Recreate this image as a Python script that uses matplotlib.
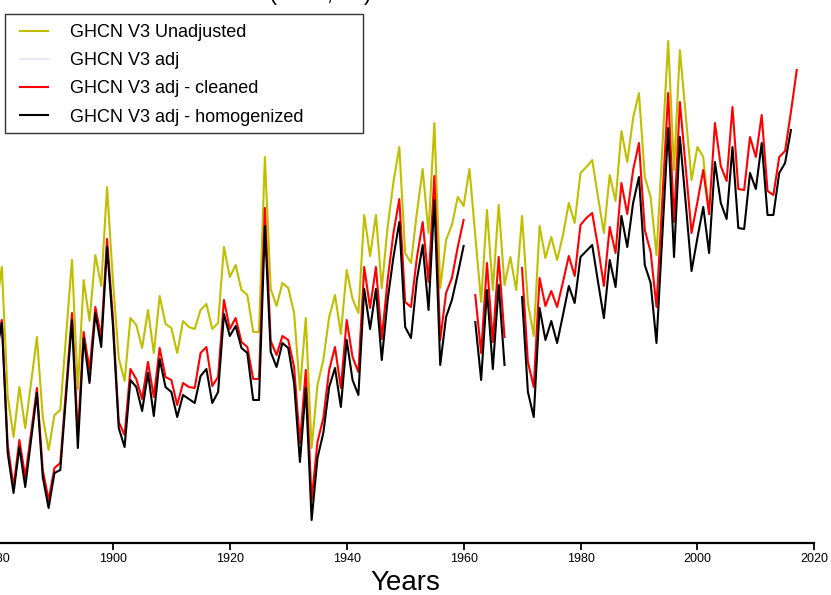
import numpy as np
import matplotlib
matplotlib.use("Agg")
import matplotlib.pyplot as plt
from matplotlib.patches import Rectangle

# annual anomalies (deg C), 1880 - 2017
years = list(range(1880, 2018))

# GHCN V3 unadjusted, only visible up to 2002 (hidden under red afterwards)
unadj = [0.21, 0.63, -0.66, -1.07, -0.57, -0.98, -0.53, -0.07, -0.87, -1.20,
         -0.85, -0.80, -0.05, 0.70, -0.59, 0.50, 0.09, 0.75, 0.44, 1.43,
         0.50, -0.28, -0.51, 0.12, 0.05, -0.18, 0.20, -0.23, 0.34, 0.06,
         0.02, -0.23, 0.09, 0.03, 0.01, 0.20, 0.26, 0.01, 0.07, 0.83,
         0.53, 0.65, 0.40, 0.35, -0.02, -0.02, 1.73, 0.41, 0.24, 0.47,
         0.42, 0.17, -0.60, 0.12, -1.18, -0.55, -0.30, 0.13, 0.35, -0.04,
         0.60, 0.31, 0.17, 1.15, 0.74, 1.15, 0.42, 1.03, 1.48, 1.83,
         0.77, 0.67, 1.17, 1.61, 0.97, 2.07, 0.42, 0.90, 1.05, 1.33,
         1.24, 1.61, 0.94, 0.28, 1.20, 0.40, 1.25, 0.45, 0.73, 0.40,
         1.14, 0.27, -0.06, 1.04, 0.72, 0.93, 0.70, 0.95, 1.27, 1.07,
         1.57, 1.63, 1.70, 1.33, 0.97, 1.55, 1.29, 1.99, 1.68, 2.12,
         2.37, 1.53, 1.33, 0.75, 1.82, 2.89, 1.60, 2.80, 2.15, 1.50,
         1.83, 1.73, 1.16]

# GHCN V3 adj - cleaned (None = missing year)
cleaned = [-0.15, 0.10, -1.15, -1.57, -1.10, -1.47, -1.03, -0.58, -1.40, -1.70,
           -1.38, -1.33, -0.58, 0.17, -1.05, -0.02, -0.40, 0.23, -0.07, 0.91,
           0.12, -0.92, -1.05, -0.39, -0.49, -0.69, -0.32, -0.67, -0.18, -0.47,
           -0.50, -0.75, -0.53, -0.57, -0.58, -0.23, -0.17, -0.56, -0.47, 0.30,
           0.01, 0.12, -0.12, -0.17, -0.49, -0.49, 1.22, -0.11, -0.25, -0.06,
           -0.10, -0.37, -1.13, -0.40, -1.70, -1.12, -0.88, -0.40, -0.17, -0.58,
           0.10, -0.27, -0.42, 0.63, 0.22, 0.63, -0.09, 0.50, 0.97, 1.31,
           0.28, 0.23, 0.72, 1.08, 0.48, 1.54, -0.10, 0.37, 0.52, 0.83,
           1.10, None, 0.35, -0.23, 0.67, -0.12, 0.73, -0.07, None, None,
           0.62, -0.32, -0.57, 0.52, 0.24, 0.39, 0.23, 0.48, 0.74, 0.54,
           1.05, 1.12, 1.17, 0.83, 0.44, 1.03, 0.77, 1.47, 1.16, 1.60,
           1.87, 1.00, 0.78, 0.23, 1.30, 2.37, 1.08, 2.28, 1.63, 0.97,
           1.28, 1.60, 1.16, 2.07, 1.64, 1.49, 2.23, 1.41, 1.40, 1.93,
           1.73, 2.15, 1.39, 1.35, 1.73, 1.79, 2.18, 2.60]

# GHCN V3 adj - homogenized
homog = [-0.25, 0.07, -1.23, -1.63, -1.17, -1.57, -1.10, -0.63, -1.47, -1.78,
         -1.43, -1.40, -0.65, 0.10, -1.18, -0.08, -0.53, 0.17, -0.17, 0.83,
         0.05, -0.98, -1.17, -0.50, -0.57, -0.81, -0.43, -0.86, -0.29, -0.57,
         -0.62, -0.87, -0.65, -0.69, -0.73, -0.46, -0.39, -0.73, -0.62, 0.16,
         -0.06, 0.04, -0.18, -0.23, -0.70, -0.70, 1.04, -0.22, -0.37, -0.13,
         -0.18, -0.53, -1.32, -0.58, -1.90, -1.28, -1.03, -0.57, -0.38, -0.77,
         -0.10, -0.50, -0.65, 0.41, 0.01, 0.41, -0.30, 0.30, 0.73, 1.08,
         0.03, -0.08, 0.50, 0.85, 0.20, 1.30, -0.35, 0.13, 0.30, 0.56,
         0.84, None, 0.08, -0.50, 0.40, -0.39, 0.45, -0.35, None, None,
         0.33, -0.62, -0.87, 0.22, -0.10, 0.09, -0.13, 0.15, 0.44, 0.27,
         0.73, 0.79, 0.85, 0.48, 0.12, 0.70, 0.43, 1.14, 0.83, 1.27,
         1.53, 0.65, 0.47, -0.13, 0.95, 2.02, 0.73, 1.93, 1.27, 0.59,
         0.92, 1.23, 0.77, 1.68, 1.27, 1.11, 1.83, 1.02, 1.01, 1.57,
         1.41, 1.87, 1.15, 1.15, 1.57, 1.67, 2.00, None]

xticks = [1880, 1900, 1920, 1940, 1960, 1980, 2000, 2020]

def series(vals):
    out = np.full(len(years), np.nan)
    for i, v in enumerate(vals):
        if v is not None:
            out[i] = v
    return out

plt.rcParams["font.family"] = ["Liberation Sans", "DejaVu Sans"]

W, H = 831, 595
fig = plt.figure(figsize=(W / 100, H / 100), dpi=100)

# the original picture is a crop, so the axes run past the left and top edges
x_lo, x_hi = 1870, 2020
y_lo, y_hi = -2.13, 3.50
px_per_year = 5.845
left = (-4 - (1880 - x_lo) * px_per_year) / W
width = (x_hi - x_lo) * px_per_year / W
bottom = 52 / H
height = 563 / H
ax = fig.add_axes([left, bottom, width, height])

ax.plot(years, series(unadj), color="y", lw=1.5, label="GHCN V3 Unadjusted")
ax.plot([], [], color="lavender", lw=1.5, label="GHCN V3 adj")
ax.plot(years, series(cleaned), color="red", lw=1.5, label="GHCN V3 adj - cleaned")
ax.plot(years, series(homog), color="black", lw=1.5, label="GHCN V3 adj - homogenized")

ax.set_xlim(x_lo, x_hi)
ax.set_ylim(y_lo, y_hi)

for s in ["left", "top", "right"]:
    ax.spines[s].set_visible(False)
ax.spines["bottom"].set_linewidth(1.6)
ax.set_yticks([])
ax.set_xticks(xticks)
ax.tick_params(axis="x", direction="out", length=5, width=1.3, pad=2, labelsize=9)

ax.set_xlabel("Years", fontsize=20)
ax.xaxis.label.set_va("baseline")
ax.xaxis.set_label_coords((405 - left * W) / (width * W), (543 - 590) / 563)

# legend without its own frame, frame drawn as a separate box
leg = fig.legend(loc="upper left", bbox_to_anchor=(20 / W, 1 - 24 / H),
                 fontsize=13, frameon=False,
                 handlelength=1.55, handletextpad=1.22, labelspacing=0.62,
                 borderpad=0, borderaxespad=0)
fig.patches.append(Rectangle((5 / W, 1 - 133 / H), 358 / W, 119 / H,
                             transform=fig.transFigure, fill=False,
                             edgecolor="#333333", lw=1.0))

# title is mostly cut off by the crop, only the bottom of it shows
fig.text(371 / W, 1.0, "Station Mean (Land, \u00b0C)", ha="right", va="baseline",
         fontsize=16)

fig.savefig("out.png", dpi=100)
